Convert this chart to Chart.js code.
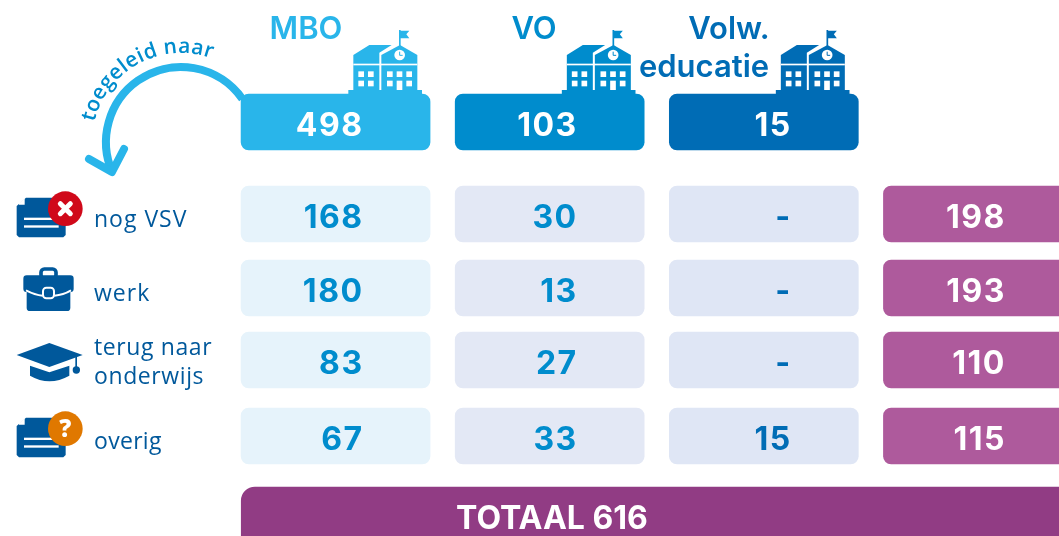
<!DOCTYPE html>
<html lang="nl">
<head>
<meta charset="utf-8">
<title>Toegeleid naar</title>
<script src="https://cdn.jsdelivr.net/npm/chart.js@4"></script>
<style>
  html, body { margin: 0; width: 1059px; height: 536px; overflow: hidden; background: #fff; }
  canvas { display: block; }
</style>
</head>
<body>
<canvas id="chart" width="1085" height="536"></canvas>
<script>
const columns = ["MBO", "VO", "Volw. educatie", "Totaal"];
const rowLabels = ["nog VSV", "werk", "terug naar onderwijs", "overig"];
const headerValues = [498, 103, 15, null];
const nogVsvValues = [168, 30, null, 198];
const werkValues = [180, 13, null, 193];
const terugValues = [83, 27, null, 110];
const overigValues = [67, 33, 15, 115];
const totalValue = 616;
const totalLabel = "TOTAAL";
const curvedLabel = "toegeleid naar";

const BLUE_LIGHT = "#29b5ea";
const BLUE_MID = "#008ccd";
const BLUE_DARK = "#006cb5";
const NAVY = "#00589b";
const PURPLE = "#ae5a9c";
const PURPLE_DARK = "#913c84";

const NUM_FONT = "700 32px Inter";
const HEAD_FONT = "600 31px Inter";
const LABEL_FONT = "400 23px 'Open Sans'";

function rowDataset(values, top, fills, inks, withEmpty) {
  return {
    values: values,
    inks: inks,
    data: values.map((v) => (v === null && !withEmpty ? null : [top, top + 56])),
    backgroundColor: fills,
    barThickness: 189,
    grouped: false,
    borderRadius: 8,
    borderSkipped: false,
    xAxisID: "x",
  };
}

const headerInk = ["#fff", "#fff", "#fff", "#fff"];
const rowFills = ["#e6f3fb", "#e3e8f5", "#dfe6f5", PURPLE];
const rowInks = [BLUE_MID, BLUE_MID, BLUE_DARK, "#fff"];

const datasets = [
  rowDataset(headerValues, 94, [BLUE_LIGHT, BLUE_MID, BLUE_DARK, PURPLE], headerInk, false),
  rowDataset(nogVsvValues, 186, rowFills, rowInks, true),
  rowDataset(werkValues, 260, rowFills, rowInks, true),
  rowDataset(terugValues, 332, rowFills, rowInks, true),
  rowDataset(overigValues, 408, rowFills, rowInks, true),
  {
    data: [[487, 580]],
    backgroundColor: PURPLE_DARK,
    barThickness: 831,
    grouped: false,
    borderRadius: 14,
    borderSkipped: false,
    xAxisID: "x2",
  },
];

function text(ctx, str, x, y, font, color, align, spacing) {
  ctx.font = font;
  ctx.fillStyle = color;
  ctx.textAlign = align || "left";
  ctx.textBaseline = "alphabetic";
  ctx.letterSpacing = spacing || "0px";
  ctx.fillText(str, x, y);
  ctx.letterSpacing = "0px";
}

function roundBox(ctx, x, y, w, h, r) {
  ctx.beginPath();
  ctx.roundRect(x, y, w, h, r);
  ctx.fill();
}

function poly(ctx, pts) {
  ctx.beginPath();
  pts.forEach((p, i) => (i ? ctx.lineTo(p[0], p[1]) : ctx.moveTo(p[0], p[1])));
  ctx.closePath();
  ctx.fill();
}

// icon coordinates are in 3x zoom units, hence the scale
function drawSchool(ctx, dx, color) {
  ctx.save();
  ctx.translate(dx, 0);
  ctx.scale(1 / 3, 1 / 3);
  ctx.fillStyle = color;
  ctx.fillRect(1045, 270, 221, 12);
  poly(ctx, [[1060, 165], [1108, 135], [1175, 135], [1138, 158], [1138, 270], [1060, 270]]);
  poly(ctx, [[1144, 165], [1200, 135], [1252, 165], [1252, 270], [1144, 270]]);
  ctx.fillRect(1197, 90, 5, 48);
  poly(ctx, [[1200, 92], [1228, 92], [1219, 103], [1228, 115], [1200, 115]]);
  ctx.fillStyle = "#fff";
  ctx.fillRect(1060, 191, 192, 5);
  [[1075, 214], [1104, 214], [1075, 242], [1104, 242], [1161, 214], [1190, 214], [1219, 214], [1161, 242], [1219, 242]].forEach((w) => {
    ctx.fillRect(w[0], w[1], 17, 17);
  });
  ctx.fillRect(1190, 242, 17, 28);
  ctx.beginPath();
  ctx.arc(1199, 165, 16, 0, Math.PI * 2);
  ctx.fill();
  ctx.strokeStyle = color;
  ctx.lineWidth = 3;
  ctx.beginPath();
  ctx.moveTo(1199, 155);
  ctx.lineTo(1199, 166);
  ctx.lineTo(1208, 166);
  ctx.stroke();
  ctx.restore();
}

function drawDoc(ctx, top, badge, mark) {
  ctx.save();
  ctx.translate(0, top);
  ctx.scale(1 / 3, 1 / 3);
  ctx.fillStyle = NAVY;
  poly(ctx, [[78, 53], [190, 53], [197, 60], [197, 165], [190, 172], [57, 172], [50, 165], [50, 78]]);
  ctx.fillStyle = "#fff";
  poly(ctx, [[57, 70], [74, 55], [74, 74], [57, 74]]);
  ctx.fillRect(72, 113, 100, 7);
  ctx.fillRect(72, 136, 104, 7);
  ctx.fillStyle = badge;
  ctx.beginPath();
  ctx.arc(196, 86, 52, 0, Math.PI * 2);
  ctx.fill();
  if (mark === "x") {
    ctx.strokeStyle = "#fff";
    ctx.lineWidth = 15;
    ctx.lineCap = "round";
    ctx.beginPath();
    ctx.moveTo(181, 71);
    ctx.lineTo(211, 101);
    ctx.moveTo(211, 71);
    ctx.lineTo(181, 101);
    ctx.stroke();
  } else {
    ctx.fillStyle = "#fff";
    ctx.font = "800 72px 'Open Sans'";
    ctx.textAlign = "center";
    ctx.fillText("?", 196, 112);
  }
  ctx.restore();
}

function drawBag(ctx) {
  ctx.save();
  ctx.translate(0, 180);
  ctx.scale(1 / 3, 1 / 3);
  ctx.strokeStyle = NAVY;
  ctx.lineWidth = 11;
  ctx.beginPath();
  ctx.roundRect(123, 267, 45, 28, 10);
  ctx.stroke();
  ctx.fillStyle = NAVY;
  roundBox(ctx, 70, 286, 151, 50, 10);
  roundBox(ctx, 80, 320, 131, 73, 10);
  ctx.strokeStyle = "#fff";
  ctx.lineWidth = 6;
  ctx.beginPath();
  ctx.moveTo(78, 331);
  ctx.quadraticCurveTo(105, 345, 128, 347);
  ctx.moveTo(163, 347);
  ctx.quadraticCurveTo(190, 345, 213, 331);
  ctx.stroke();
  ctx.beginPath();
  ctx.roundRect(129, 323, 33, 32, 10);
  ctx.stroke();
  ctx.restore();
}

function drawCap(ctx) {
  ctx.save();
  ctx.translate(0, 325);
  ctx.scale(1 / 3, 1 / 3);
  ctx.fillStyle = NAVY;
  poly(ctx, [[50, 90], [148, 54], [248, 90], [148, 126]]);
  ctx.beginPath();
  ctx.moveTo(90, 122);
  ctx.lineTo(148, 142);
  ctx.lineTo(208, 122);
  ctx.lineTo(208, 152);
  ctx.quadraticCurveTo(148, 185, 90, 152);
  ctx.closePath();
  ctx.fill();
  ctx.fillRect(226, 96, 5, 34);
  ctx.beginPath();
  ctx.arc(229, 135, 11, 0, Math.PI * 2);
  ctx.fill();
  ctx.restore();
}

function drawArrow(ctx) {
  const cx = 181, cy = 142;
  ctx.save();
  ctx.strokeStyle = BLUE_LIGHT;
  ctx.lineWidth = 8;
  ctx.beginPath();
  ctx.arc(cx, cy, 75, (-35 * Math.PI) / 180, (156 * Math.PI) / 180, true);
  ctx.stroke();
  ctx.lineCap = "round";
  ctx.lineJoin = "round";
  ctx.beginPath();
  ctx.moveTo(89, 159);
  ctx.lineTo(112, 172);
  ctx.lineTo(124, 149);
  ctx.stroke();
  ctx.restore();

  // curved label, one glyph at a time along the circle
  const r = 89;
  const start = (-167 * Math.PI) / 180;
  const end = (-70 * Math.PI) / 180;
  ctx.save();
  ctx.font = "600 21px 'Open Sans'";
  ctx.fillStyle = BLUE_MID;
  ctx.textAlign = "left";
  const widths = Array.from(curvedLabel).map((c) => ctx.measureText(c).width);
  const total = widths.reduce((a, b) => a + b, 0);
  const gap = ((end - start) * r - total) / (widths.length - 1);
  let along = 0;
  Array.from(curvedLabel).forEach((c, i) => {
    const a = start + (along + widths[i] / 2) / r;
    ctx.save();
    ctx.translate(cx + Math.cos(a) * r, cy + Math.sin(a) * r);
    ctx.rotate(a + Math.PI / 2);
    ctx.fillText(c, -widths[i] / 2, 0);
    ctx.restore();
    along += widths[i] + gap;
  });
  ctx.restore();
}

const tileText = {
  id: "tileText",
  afterDatasetsDraw(chart) {
    const ctx = chart.ctx;
    chart.data.datasets.forEach((ds, i) => {
      if (!ds.values) return;
      chart.getDatasetMeta(i).data.forEach((bar, j) => {
        if (ds.data[j] === null) return;
        const v = ds.values[j];
        const y = (ds.data[j][0] + ds.data[j][1]) / 2 + 14;
        text(ctx, v === null ? "-" : String(v), bar.x + 28, y, NUM_FONT, ds.inks[j], "right", "1.5px");
      });
    });
    text(ctx, totalLabel + " " + totalValue, 552, 529, NUM_FONT, "#fff", "center");

    text(ctx, "MBO", 306, 39, HEAD_FONT, BLUE_LIGHT, "center");
    text(ctx, "VO", 534, 39, HEAD_FONT, BLUE_MID, "center");
    text(ctx, "Volw.", 729, 39, HEAD_FONT, BLUE_DARK, "center");
    text(ctx, "educatie", 704, 77, HEAD_FONT, BLUE_DARK, "center");

    text(ctx, rowLabels[0], 94, 227, LABEL_FONT, NAVY, "left", "1px");
    text(ctx, rowLabels[1], 94, 301, LABEL_FONT, NAVY, "left", "1px");
    text(ctx, "terug naar", 94, 355, LABEL_FONT, NAVY, "left", "0.6px");
    text(ctx, "onderwijs", 94, 384, LABEL_FONT, NAVY, "left", "0.6px");
    text(ctx, rowLabels[3], 94, 449, LABEL_FONT, NAVY, "left", "0.3px");

    drawSchool(ctx, 0, BLUE_LIGHT);
    drawSchool(ctx, 213.5, BLUE_MID);
    drawSchool(ctx, 427.5, BLUE_DARK);
    drawDoc(ctx, 180, "#d0091a", "x");
    drawBag(ctx);
    drawCap(ctx);
    drawDoc(ctx, 325 + 75, "#e07800", "?");
    drawArrow(ctx);
  },
};

new Chart(document.getElementById("chart").getContext("2d"), {
  type: "bar",
  data: { labels: columns, datasets: datasets },
  plugins: [tileText],
  options: {
    responsive: false,
    animation: false,
    layout: { padding: { left: 228.5, right: 0, top: 0, bottom: 0 } },
    plugins: { legend: { display: false }, tooltip: { enabled: false } },
    scales: {
      x: { display: false, offset: true },
      x2: { type: "category", labels: [totalLabel], display: false, offset: true },
      y: { display: false, reverse: true, min: 0, max: 536 },
    },
  },
});
</script>
</body>
</html>
